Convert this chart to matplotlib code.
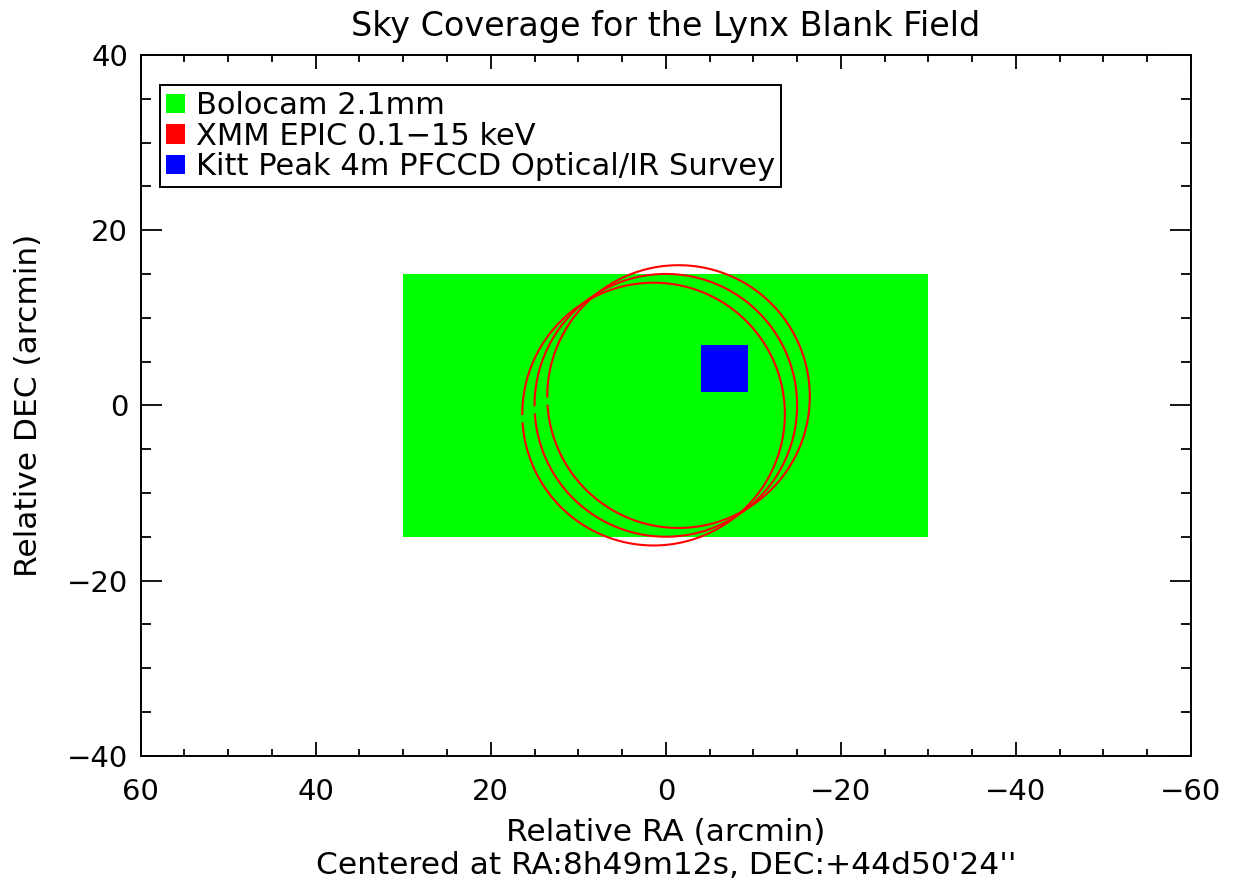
import numpy as np
import matplotlib
matplotlib.use('Agg')
import matplotlib.pyplot as plt
from matplotlib.patches import Rectangle, Patch

# Bolocam 2.1mm map extent (arcmin, relative to field centre)
bolo_ra = [-30.0, 30.0]
bolo_dec = [-15.0, 15.0]

# XMM EPIC pointings: circle centres and radius (arcmin)
xmm_ra = [1.4, 0.0, -1.45]
xmm_dec = [-1.0, 0.0, 1.0]
xmm_radius = 15.0

# Kitt Peak 4m PFCCD survey tile
kp_ra = [-9.4, -4.0]
kp_dec = [1.55, 6.9]

labels = ['Bolocam 2.1mm', 'XMM EPIC 0.1\u221215 keV', 'Kitt Peak 4m PFCCD Optical/IR Survey']
colors = ['#00ff00', '#ff0000', '#0000ff']

plt.rcParams['font.family'] = ['DejaVu Sans']

fig = plt.figure(figsize=(12.45, 8.85), dpi=100)
ax = fig.add_axes([0.113, 0.1461, 0.8436, 0.7918])

ax.add_patch(Rectangle((bolo_ra[0], bolo_dec[0]), bolo_ra[1] - bolo_ra[0],
                       bolo_dec[1] - bolo_dec[0], facecolor=colors[0], edgecolor='none'))
ax.add_patch(Rectangle((kp_ra[0], kp_dec[0]), kp_ra[1] - kp_ra[0],
                       kp_dec[1] - kp_dec[0], facecolor=colors[2], edgecolor='none', zorder=3))

# circles drawn 0..356 deg, leaving the small gap seen on the left side
theta = np.radians(np.linspace(0, 356, 300))
for cx, cy in zip(xmm_ra, xmm_dec):
    ax.plot(cx + xmm_radius * np.cos(theta), cy + xmm_radius * np.sin(theta),
            color=colors[1], lw=1.5, zorder=4)

ax.set_xlim(60, -60)
ax.set_ylim(-40, 40)
ax.set_xticks(np.arange(-60, 61, 20))
ax.set_xticks(np.arange(-60, 61, 5), minor=True)
ax.set_yticks(np.arange(-40, 41, 20))
ax.set_yticks(np.arange(-40, 41, 5), minor=True)
ax.set_xticklabels(['\u221260', '\u221240', '\u221220', '0', '20', '40', '60'])
ax.set_yticklabels(['\u221240', '\u221220', '0', '20', '40'])

ax.tick_params(which='both', direction='in', top=True, right=True, width=1.3,
               labelsize=21)
ax.tick_params(axis='x', which='both', pad=16)
ax.tick_params(axis='y', which='both', pad=9)
ax.tick_params(axis='x', which='major', length=10)
ax.tick_params(axis='x', which='minor', length=5)
ax.tick_params(axis='y', which='major', length=15)
ax.tick_params(axis='y', which='minor', length=7.2)
for s in ax.spines.values():
    s.set_linewidth(1.4)

ax.set_title('Sky Coverage for the Lynx Blank Field', fontsize=24, pad=14)
ax.set_xlabel('Relative RA (arcmin)', fontsize=22.5, labelpad=9)
ax.set_ylabel('Relative DEC (arcmin)', fontsize=22.5, labelpad=17)
fig.text(0.535, 0.022, "Centered at RA:8h49m12s, DEC:+44d50'24''", fontsize=22.5,
         ha='center', va='center')

handles = [Patch(facecolor=c, edgecolor='none') for c in colors]
leg = ax.legend(handles, labels, loc='upper left', bbox_to_anchor=(0.0184, 0.957),
                borderaxespad=0, fontsize=22, handlelength=0.62, handleheight=0.62,
                handletextpad=0.35, labelspacing=0.05, borderpad=0.2,
                fancybox=False, framealpha=1, edgecolor='black')
leg.get_frame().set_linewidth(1.4)

fig.savefig('out.png', dpi=100)
